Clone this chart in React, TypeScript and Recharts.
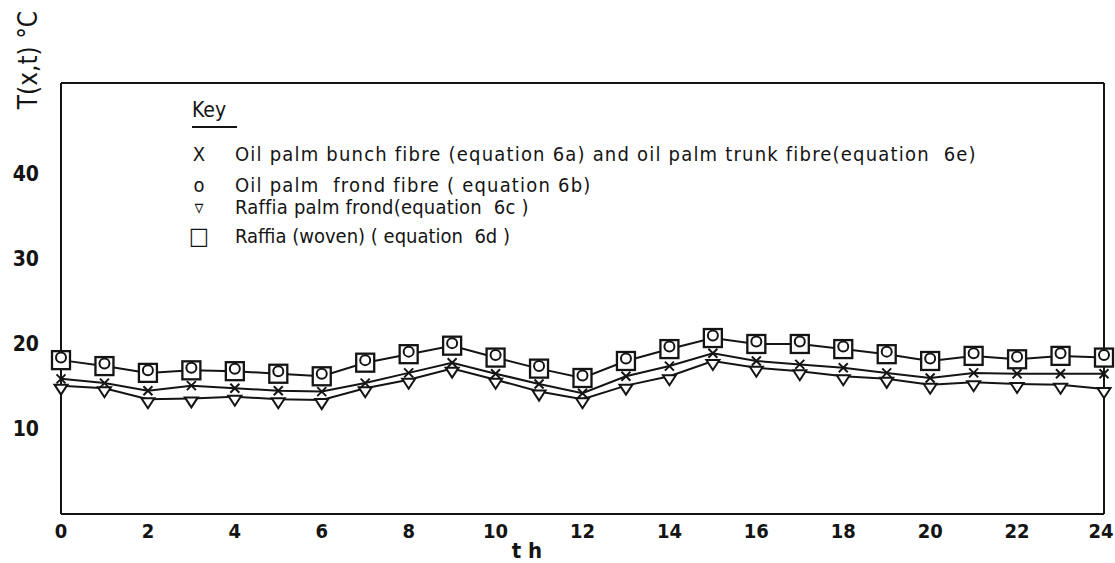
import React from "react";
import { LineChart, Line, XAxis, YAxis, ReferenceLine } from "recharts";

const hours = [0, 1, 2, 3, 4, 5, 6, 7, 8, 9, 10, 11, 12, 13, 14, 15, 16, 17, 18, 19, 20, 21, 22, 23, 24];
const bunchFibre = [15.9, 15.4, 14.5, 15.1, 14.8, 14.5, 14.4, 15.4, 16.6, 17.8, 16.5, 15.3, 14.2, 16.2, 17.4, 18.9, 18.0, 17.6, 17.2, 16.6, 16.0, 16.6, 16.5, 16.5, 16.5];
const frondFibre = [18.4, 17.7, 16.9, 17.2, 17.1, 16.8, 16.5, 18.1, 19.1, 20.1, 18.7, 17.4, 16.3, 18.3, 19.7, 21.0, 20.3, 20.3, 19.7, 19.1, 18.3, 18.9, 18.5, 18.9, 18.7];
const raffiaFrond = [15.1, 14.8, 13.5, 13.6, 13.8, 13.5, 13.4, 14.8, 15.8, 17.1, 15.8, 14.4, 13.5, 15.1, 16.2, 18.0, 17.2, 16.8, 16.2, 15.9, 15.2, 15.5, 15.3, 15.2, 14.7];
const raffiaWoven = [18.1, 17.4, 16.6, 16.9, 16.8, 16.5, 16.2, 17.8, 18.8, 19.8, 18.4, 17.1, 16.0, 18.0, 19.4, 20.7, 20.0, 20.0, 19.4, 18.8, 18.0, 18.6, 18.2, 18.6, 18.4];
const xTicks = [0, 2, 4, 6, 8, 10, 12, 14, 16, 18, 20, 22, 24];
const yTicks = [10, 20, 30, 40];

const data = hours.map((t, i) => ({
  t,
  bunch: bunchFibre[i],
  frond: frondFibre[i],
  palm: raffiaFrond[i],
  woven: raffiaWoven[i],
}));

const INK = "#141414";
const FONT = "'DejaVu Sans Condensed', 'DejaVu Sans', sans-serif";

const CrossDot = (p: any) => {
  const { cx, cy } = p;
  if (cx == null || cy == null) return null;
  const s = 4.5;
  return (
    <g stroke={INK} strokeWidth={2}>
      <line x1={cx - s} y1={cy - s} x2={cx + s} y2={cy + s} />
      <line x1={cx - s} y1={cy + s} x2={cx + s} y2={cy - s} />
    </g>
  );
};

const TriangleDot = (p: any) => {
  const { cx, cy } = p;
  if (cx == null || cy == null) return null;
  return (
    <polygon
      points={`${cx - 6.5},${cy - 1} ${cx + 6.5},${cy - 1} ${cx},${cy + 9}`}
      fill="#fff"
      stroke={INK}
      strokeWidth={2}
    />
  );
};

const SquareDot = (p: any) => {
  const { cx, cy } = p;
  if (cx == null || cy == null) return null;
  return (
    <rect x={cx - 9} y={cy - 9} width={18} height={18} fill="#fff" stroke={INK} strokeWidth={2.3} />
  );
};

const CircleDot = (p: any) => {
  const { cx, cy } = p;
  if (cx == null || cy == null) return null;
  return <circle cx={cx} cy={cy} r={5} fill="#fff" stroke={INK} strokeWidth={2} />;
};

// keeps the last label ("24") inside the picture like the scan does
const XTick = (p: any) => {
  const { x, y, payload } = p;
  return (
    <text
      x={Math.min(x, 1101)}
      y={y}
      dy="0.71em"
      textAnchor="middle"
      fill={INK}
      fontSize={20}
      fontWeight={700}
      fontFamily={FONT}
    >
      {payload.value}
    </text>
  );
};

const keyRows = [
  { sym: "X", label: "Oil palm bunch fibre (equation 6a) and oil palm trunk fibre(equation  6e)", y: 154, size: 20, ls: 1.2 },
  { sym: "o", label: "Oil palm  frond fibre ( equation 6b)", y: 185, size: 20, ls: 1.2 },
  { sym: "▿", label: "Raffia palm frond(equation  6c )", y: 207, size: 20, ls: 0.2 },
  { sym: "□", label: "Raffia (woven) ( equation  6d )", y: 236, size: 24, ls: 0 },
];

export default function App() {
  return (
    <div
      style={{
        position: "absolute",
        left: 0,
        top: 0,
        width: 1115,
        height: 563,
        background: "#fff",
        fontFamily: FONT,
        color: INK,
      }}
    >
      <LineChart
        width={1115}
        height={563}
        data={data}
        margin={{ top: 83, right: 11, bottom: 19, left: 11 }}
      >
        <XAxis
          dataKey="t"
          type="number"
          domain={[0, 24]}
          ticks={xTicks}
          height={30}
          tickLine={false}
          tickSize={0}
          tickMargin={10}
          axisLine={{ stroke: INK, strokeWidth: 2 }}
          tick={<XTick />}
        />
        <YAxis
          type="number"
          domain={[0, 50.7]}
          ticks={yTicks}
          width={50}
          tickLine={false}
          tickSize={0}
          tickMargin={22}
          axisLine={{ stroke: INK, strokeWidth: 2 }}
          tick={{ fill: INK, fontSize: 21, fontWeight: 700, fontFamily: FONT }}
        />
        <ReferenceLine y={50.7} stroke={INK} strokeWidth={2} ifOverflow="visible" />
        <ReferenceLine x={24} stroke={INK} strokeWidth={2} ifOverflow="visible" />
        <Line
          dataKey="palm"
          stroke={INK}
          strokeWidth={2}
          dot={<TriangleDot />}
          activeDot={false}
          isAnimationActive={false}
        />
        <Line
          dataKey="bunch"
          stroke={INK}
          strokeWidth={2}
          dot={<CrossDot />}
          activeDot={false}
          isAnimationActive={false}
        />
        <Line
          dataKey="woven"
          stroke={INK}
          strokeWidth={2}
          dot={<SquareDot />}
          activeDot={false}
          isAnimationActive={false}
        />
        <Line
          dataKey="frond"
          stroke="none"
          dot={<CircleDot />}
          activeDot={false}
          isAnimationActive={false}
        />
      </LineChart>

      <div
        style={{
          position: "absolute",
          left: 28,
          top: 60,
          transform: "translate(-50%, -50%) rotate(-90deg)",
          fontSize: 26,
          whiteSpace: "nowrap",
          lineHeight: "30px",
        }}
      >
        T(x,t) °C
      </div>
      <div
        style={{
          position: "absolute",
          left: 527,
          top: 551,
          transform: "translate(-50%, -50%)",
          fontSize: 22,
          fontWeight: 700,
          whiteSpace: "nowrap",
          lineHeight: "20px",
        }}
      >
        t h
      </div>

      <div style={{ position: "absolute", left: 192, top: 98, fontSize: 21, lineHeight: "24px" }}>Key</div>
      <div style={{ position: "absolute", left: 192, top: 126, width: 45, height: 2, background: INK }} />
      {keyRows.map((r) => (
        <React.Fragment key={r.label}>
          <div
            style={{
              position: "absolute",
              left: 199,
              top: r.y,
              transform: "translate(-50%, -50%)",
              fontSize: r.size,
              lineHeight: "24px",
            }}
          >
            {r.sym}
          </div>
          <div
            style={{
              position: "absolute",
              left: 235,
              top: r.y - 12,
              fontSize: 20,
              letterSpacing: r.ls,
              lineHeight: "24px",
              whiteSpace: "pre",
            }}
          >
            {r.label}
          </div>
        </React.Fragment>
      ))}
    </div>
  );
}
